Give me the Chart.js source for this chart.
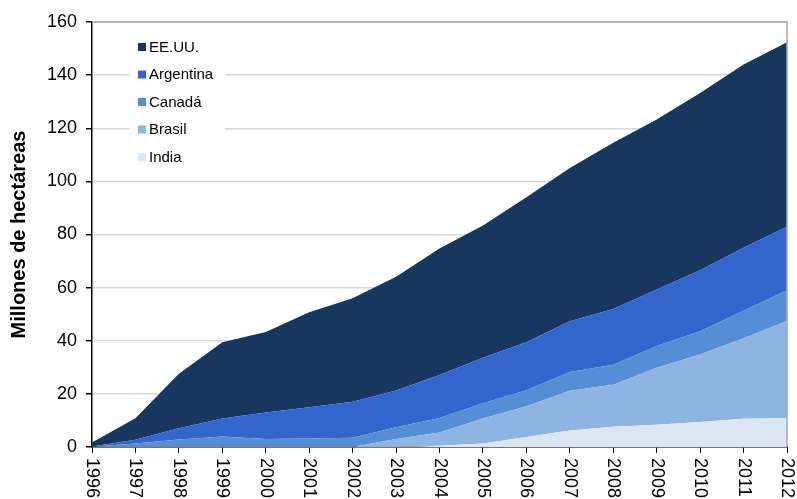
<!DOCTYPE html>
<html>
<head>
<meta charset="utf-8">
<script src="https://cdn.jsdelivr.net/npm/chart.js@4"></script>
<style>
  body { margin: 0; background: #fff; }
  #wrap { width: 797px; height: 499px; }
</style>
</head>
<body>
<div id="wrap"><canvas id="areaChart"></canvas></div>
<script>
const years = ["1996", "1997", "1998", "1999", "2000", "2001", "2002", "2003", "2004",
               "2005", "2006", "2007", "2008", "2009", "2010", "2011", "2012"];

// superficie por país, millones de hectáreas
const india     = [0, 0, 0, 0, 0, 0, 0, 0, 0.5, 1.3, 3.8, 6.2, 7.6, 8.4, 9.4, 10.6, 10.8];
const brasil    = [0, 0, 0, 0, 0, 0, 0, 3.0, 5.0, 9.4, 11.5, 15.0, 15.8, 21.4, 25.4, 30.3, 36.6];
const canada    = [0.1, 1.3, 2.8, 4.0, 3.0, 3.2, 3.5, 4.4, 5.4, 5.8, 6.1, 7.0, 7.6, 8.2, 8.8, 10.4, 11.6];
const argentina = [0.1, 1.4, 4.3, 6.7, 10.0, 11.8, 13.5, 13.9, 16.2, 17.1, 18.0, 19.1, 21.0, 21.3, 22.9, 23.7, 23.9];
const eeuu      = [1.5, 8.1, 20.5, 28.7, 30.3, 35.7, 39.0, 42.8, 47.6, 49.8, 54.6, 57.7, 62.5, 64.0, 66.8, 69.0, 69.5];

const yTicks = [0, 20, 40, 60, 80, 100, 120, 140, 160];

function area(label, data, color, fill) {
    return {
        label: label,
        data: data,
        backgroundColor: color,
        borderColor: color,
        borderWidth: 0,
        pointRadius: 0,
        tension: 0,
        fill: fill
    };
}

// rotated year labels, reading top to bottom
const yearLabels = {
    id: "yearLabels",
    afterDraw(chart) {
        const ctx = chart.ctx;
        const x = chart.scales.x;
        ctx.save();
        ctx.fillStyle = "#000";
        ctx.font = "18px 'Liberation Sans', Arial, sans-serif";
        ctx.textAlign = "left";
        ctx.textBaseline = "middle";
        years.forEach((y, i) => {
            ctx.save();
            ctx.translate(x.getPixelForTick(i), chart.chartArea.bottom + 11);
            ctx.rotate(Math.PI / 2);
            ctx.fillText(y, 0, 0);
            ctx.restore();
        });
        ctx.restore();
    }
};

// top and right frame of the plot
const frame = {
    id: "frame",
    afterDraw(chart) {
        const { left, right, top, bottom } = chart.chartArea;
        const ctx = chart.ctx;
        ctx.save();
        ctx.strokeStyle = "#a6a6a6";
        ctx.lineWidth = 1.5;
        ctx.beginPath();
        ctx.moveTo(left, top);
        ctx.lineTo(right, top);
        ctx.lineTo(right, bottom);
        ctx.stroke();
        ctx.restore();
    }
};

// legend box inside the plot, top series first
const innerLegend = {
    id: "innerLegend",
    afterDraw(chart) {
        const ctx = chart.ctx;
        const sets = chart.data.datasets.slice().reverse();
        ctx.save();
        ctx.fillStyle = "#fff";
        ctx.fillRect(130, 34, 95, 136);
        ctx.font = "15px 'Liberation Sans', Arial, sans-serif";
        ctx.textBaseline = "middle";
        sets.forEach((ds, i) => {
            const cy = 47 + i * 27.5;
            ctx.fillStyle = ds.backgroundColor;
            ctx.fillRect(138, cy - 4, 8, 8);
            ctx.fillStyle = "#000";
            ctx.fillText(ds.label, 149, cy + 0.5);
        });
        ctx.restore();
    }
};

new Chart(document.getElementById("areaChart"), {
    type: "line",
    data: {
        labels: years,
        datasets: [
            area("India", india, "#dce6f2", "origin"),
            area("Brasil", brasil, "#8eb4e3", "-1"),
            area("Canadá", canada, "#558ed5", "-1"),
            area("Argentina", argentina, "#3366cc", "-1"),
            area("EE.UU.", eeuu, "#17375e", "-1")
        ]
    },
    options: {
        responsive: true,
        maintainAspectRatio: false,
        animation: false,
        layout: { padding: { top: 22, right: 10, left: 0, bottom: 0 } },
        plugins: {
            legend: { display: false },
            tooltip: { enabled: false }
        },
        scales: {
            x: {
                ticks: { display: false },
                grid: {
                    drawOnChartArea: false,
                    drawTicks: true,
                    tickLength: 6,
                    tickColor: "#000"
                },
                border: { color: "#000", width: 1.5 },
                afterFit(scale) { scale.height = 52; }
            },
            y: {
                stacked: true,
                min: 0,
                max: 160,
                afterBuildTicks(scale) {
                    scale.ticks = yTicks.map(v => ({ value: v }));
                },
                ticks: {
                    color: "#000",
                    padding: 9,
                    font: { family: "'Liberation Sans', Arial, sans-serif", size: 18 }
                },
                grid: {
                    color: "#d9d9d9",
                    lineWidth: 1.5,
                    tickLength: 6,
                    tickColor: "#000"
                },
                border: { color: "#000", width: 1.5 },
                title: {
                    display: true,
                    text: "Millones de hectáreas",
                    color: "#000",
                    padding: { top: 7, bottom: 0 },
                    font: { family: "'Liberation Sans', Arial, sans-serif", size: 20, weight: "bold" }
                },
                afterFit(scale) { scale.width = 92; }
            }
        }
    },
    plugins: [yearLabels, frame, innerLegend]
});
</script>
</body>
</html>
